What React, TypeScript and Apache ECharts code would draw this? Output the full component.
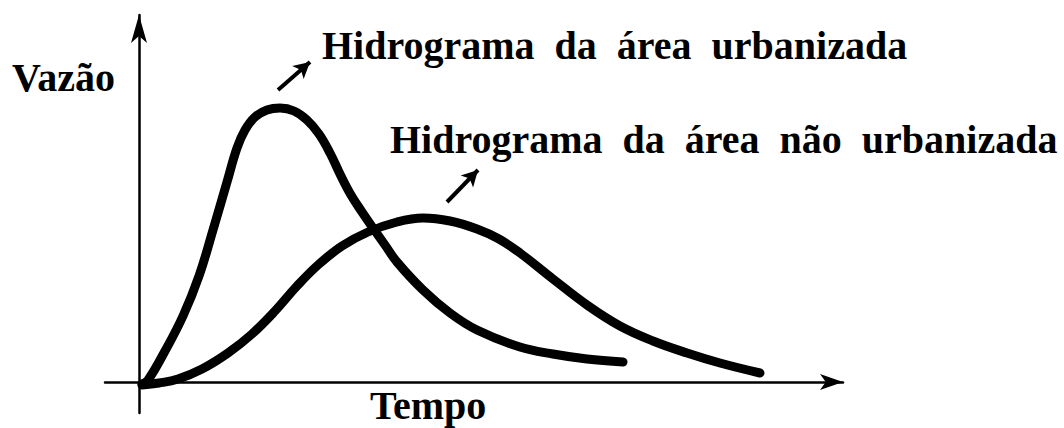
import React, { useEffect, useRef } from "react";
import * as echarts from "echarts";

// Hydrograph curves: [tempo, vazão] (arbitrary units, origin at the axes' crossing)
const urbanCurve: [number, number][] = [
  [3, -2], [9, 2], [26, 31], [44, 66], [60, 106], [74, 152], [88, 200],
  [98, 234], [106, 252], [116, 265], [128, 272], [141, 274], [155, 271],
  [168, 262], [180, 248], [191, 229], [201, 208], [212, 187], [223, 170],
  [234, 154], [246, 137], [258, 120], [284, 92], [311, 69], [338, 52],
  [381, 35], [414, 28], [448, 23], [484, 20],
];
const ruralCurve: [number, number][] = [
  [3, -3], [20, -1], [39, 3], [63, 13], [89, 29], [113, 48], [136, 71],
  [158, 96], [179, 117], [203, 136], [229, 150], [258, 160], [284, 164],
  [311, 161], [338, 153], [360, 143], [381, 129], [414, 103], [448, 77],
  [481, 56], [514, 41], [548, 29], [581, 19], [621, 9],
];
// annotation arrows: [from, to]
const arrowUrban: [number, number][] = [[139, 292], [171, 320]];
const arrowRural: [number, number][] = [[308, 180], [339, 212]];

const axisLabels = { x: "Tempo", y: "Vazão" };
const curveLabels = [
  "Hidrograma  da  área  urbanizada",
  "Hidrograma  da  área  não  urbanizada",
];

const FONT = '"Liberation Serif", "Times New Roman", serif';

export default function App() {
  const ref = useRef<HTMLDivElement>(null);
  useEffect(() => {
    if (!ref.current) return;
    const chart = echarts.init(ref.current, null, { renderer: "svg" });
    const textStyle = (text: string) => ({
      text,
      fill: "#000",
      font: `bold 40px ${FONT}`,
      verticalAlign: "middle",
    });
    const arrowMark = (pts: [number, number][]) => ({
      silent: true,
      symbol: ["none", "arrow"],
      symbolSize: [13, 16],
      lineStyle: { color: "#000", width: 4, type: "solid" },
      label: { show: false },
      data: [[{ coord: pts[0] }, { coord: pts[1] }]],
    });
    const curveStyle = { color: "#000", width: 9, cap: "round", join: "round" };
    chart.setOption({
      animation: false,
      backgroundColor: "#fff",
      grid: { left: 105, right: 221, top: 15, bottom: 15 },
      xAxis: {
        type: "value",
        min: -34,
        max: 704,
        axisLine: {
          onZero: true,
          symbol: ["none", "arrow"],
          symbolSize: [12, 23],
          lineStyle: { color: "#000", width: 2.5 },
        },
        axisTick: { show: false },
        axisLabel: { show: false },
        splitLine: { show: false },
      },
      yAxis: {
        type: "value",
        min: -31,
        max: 367,
        axisLine: {
          show: true,
          onZero: true,
          symbol: ["none", "arrow"],
          symbolSize: [12, 28],
          lineStyle: { color: "#000", width: 2.5 },
        },
        axisTick: { show: false },
        axisLabel: { show: false },
        splitLine: { show: false },
      },
      series: [
        {
          type: "line",
          data: urbanCurve,
          smooth: 0.4,
          showSymbol: false,
          lineStyle: curveStyle,
          markLine: arrowMark(arrowUrban),
        },
        {
          type: "line",
          data: ruralCurve,
          smooth: 0.4,
          showSymbol: false,
          lineStyle: curveStyle,
          markLine: arrowMark(arrowRural),
        },
      ],
      graphic: [
        { type: "text", x: 12, y: 77.5, style: textStyle(axisLabels.y) },
        { type: "text", x: 370, y: 405, style: textStyle(axisLabels.x) },
        { type: "text", x: 322, y: 45.5, style: textStyle(curveLabels[0]) },
        { type: "text", x: 390, y: 139.5, style: textStyle(curveLabels[1]) },
      ],
    });
    return () => chart.dispose();
  }, []);
  return (
    <div
      ref={ref}
      style={{ position: "absolute", left: 0, top: 0, width: 1064, height: 428 }}
    />
  );
}
